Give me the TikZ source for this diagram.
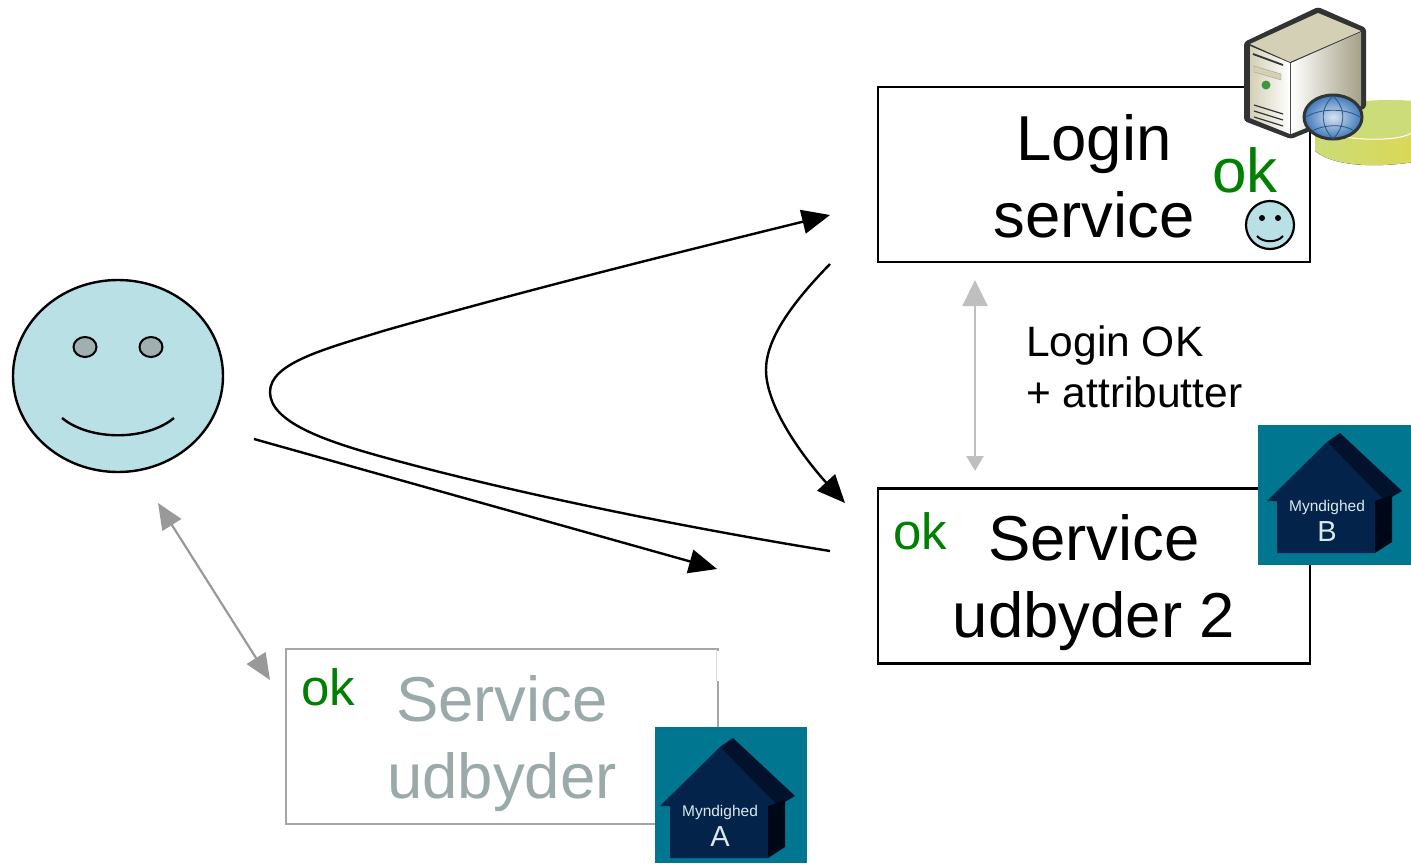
\documentclass[tikz,border=0pt]{standalone}
\usepackage{xcolor}
\usepackage{fontspec}
\setmainfont{Liberation Sans}
\usetikzlibrary{positioning,calc,arrows.meta,shapes.geometric}

\begin{document}
\begin{tikzpicture}[x=1pt,y=-1pt]
	\definecolor{faceblue}{RGB}{185,224,229}
	\definecolor{eyegrey}{RGB}{160,176,176}
	\definecolor{okgreen}{RGB}{0,128,0}
	\definecolor{fadegrey}{RGB}{154,170,170}
	\definecolor{tealbg}{RGB}{0,118,145}
	\definecolor{housefront}{RGB}{4,35,74}
	\definecolor{houseroof}{RGB}{2,18,44}
	\definecolor{houseside}{RGB}{0,8,24}
	\definecolor{disctop}{RGB}{203,220,120}
	\definecolor{discside}{RGB}{227,214,69}
	\definecolor{servertop}{RGB}{212,208,182}
	\definecolor{serverdark}{RGB}{165,160,135}
	\definecolor{serverline}{RGB}{50,52,52}
	\definecolor{globeblue}{RGB}{60,120,185}
	\tikzset{
		box/.style={
			draw=black,
			line width=2.4pt,
			minimum width=432,
			minimum height=175,
			inner sep=0pt
		},
		fadedbox/.style={
			box,
			draw=black!35,
			line width=2.8pt
		},
		boxtext/.style={
			inner sep=0pt,
			align=center,
			font=\fontsize{63.5}{77}\selectfont
		},
		okbig/.style={
			text=okgreen,
			inner sep=0pt,
			font=\fontsize{62}{62}\selectfont
		},
		oksmall/.style={
			text=okgreen,
			inner sep=0pt,
			font=\fontsize{51}{51}\selectfont
		},
		flow/.style={
			draw=black,
			line width=2.4pt,
			-{Triangle[length=28,width=24]}
		},
		house/.pic={
			\fill[housefront] (9,76) -- (69,17) -- (127,76) -- (117,76) -- (117,128) -- (19,128) -- (19,76) -- cycle;
			\fill[houseroof] (69,17) -- (82,8) -- (144,66) -- (127,76) -- cycle;
			\fill[houseside] (117,76) -- (134,70) -- (134,117) -- (117,128) -- cycle;
			\node[text=white!85!tealbg,inner sep=0pt,font=\fontsize{15.5}{15}\selectfont] (-name) at (69,82) {Myndighed};
			\node[text=white!85!tealbg,inner sep=0pt,font=\fontsize{29}{29}\selectfont] (-letter) at (69,107) {#1};
		}
	}

	\useasboundingbox (0,0) rectangle (1411,863);

	% ======= Big face =======
	\draw[fill=faceblue,line width=2.4pt] (118,376) ellipse [x radius=105, y radius=96];
	\draw[fill=eyegrey,line width=2pt] (85,347) ellipse [x radius=11.5, y radius=10];
	\draw[fill=eyegrey,line width=2pt] (151,347) ellipse [x radius=11.5, y radius=10];
	\draw[line width=2.4pt] (62,418) .. controls (90,441) and (146,441) .. (174,418);

	% ======= Boxes =======
	\node[box] (login) at (1094,174.5) {};
	\node[boxtext] (logintext) at (1094,176.5) {Login\\service};
	\node[box] (udbyder2) at (1094,576) {};
	\node[boxtext] (udbyder2text) at (1094,583) {Service\\udbyder 2};
	\node[fadedbox] (udbyder) at (502,736.5) {};
	\node[boxtext,text=fadegrey] (udbydertext) at (502,743.5) {Service\\udbyder};
	\draw[white,line width=3pt] (718,651) -- (718,681);
	\draw[black!15,line width=0.6pt] (716.5,651) -- (716.5,681);

	\node[okbig] (oklogin) at (1245,170) {ok};
	\node[oksmall] (okudbyder2) at (920,531) {ok};
	\node[oksmall] (okudbyder) at (328,687) {ok};

	% ======= Small face =======
	\draw[fill=faceblue,line width=2.2pt] (1270,225) circle [radius=24];
	\fill (1262,218) circle [radius=3];
	\fill (1278,218) circle [radius=3];
	\draw[line width=2pt] (1257,236) .. controls (1263,243) and (1277,243) .. (1283,236);

	% ======= Disc and server =======
	\fill[left color=disctop,right color=discside] (1315,119) -- (1315,151) .. controls (1340,172) and (1411,168) .. (1465,150) -- (1465,119) -- cycle;
	\fill[disctop] (1390,119) ellipse [x radius=75, y radius=19];
	\draw[white,line width=1pt] (1315,128) .. controls (1340,142) and (1400,142) .. (1411,133);
	\fill[serverline,rounded corners=3pt] (1318,7) -- (1366,28) -- (1366,108) -- (1291,139) -- (1244,121) -- (1244,42) -- cycle;
	\shade[left color=servertop,right color=white] (1250,46) -- (1290,63) -- (1290,134) -- (1250,118) -- cycle;
	\shade[left color=white,right color=serverdark] (1291,63) -- (1361,32) -- (1361,106) -- (1291,134) -- cycle;
	\fill[servertop] (1250,44) -- (1318,13) -- (1361,31) -- (1290,62) -- cycle;
	\draw[serverline,line width=1.8pt] (1253,54) -- (1283,65);
	\draw[serverdark,fill=servertop] (1254,66) -- (1281,74) -- (1281,80) -- (1254,72) -- cycle;
	\fill[green!45!black!75] (1266,85) circle [radius=4.5];
	\draw[serverline,line width=1.2pt] (1254,105) -- (1283,114) (1254,111) -- (1283,120) (1254,117) -- (1283,126);
	\draw[serverline,line width=3pt,inner color=white!80!globeblue,outer color=globeblue] (1333,117) ellipse [x radius=29, y radius=22];
	\draw[globeblue!70!black,line width=0.8pt] (1306,117) .. controls (1320,108) and (1346,108) .. (1360,117) (1312,131) .. controls (1325,124) and (1345,124) .. (1354,131) (1333,96) .. controls (1318,110) and (1322,128) .. (1333,139) (1333,96) .. controls (1348,110) and (1344,128) .. (1333,139);

	% ======= Houses =======
	\fill[tealbg] (1258,425) rectangle (1411,565);
	\pic at (1258,425) {house={B}};
	\fill[tealbg] (655,727) rectangle (807,863);
	\pic at (651,730) {house={A}};

	% ======= Arrow ends =======
	\coordinate (loginin) at (830,215);
	\coordinate (loginout) at (830,264);
	\coordinate (serv2in) at (845,503);
	\coordinate (serv2out) at (830,551);
	\coordinate (userout) at (254,439);
	\coordinate (userin) at (717,569);
	\coordinate (bend) at (270,392);
	\coordinate (bendup) at (383,331);
	\coordinate (benddown) at (383,457);
	\coordinate (bendb) at (766,370);
	\coordinate (linktop) at (975,280);
	\coordinate (linkbot) at (975,471);
	\coordinate (usertip) at (158,503);
	\coordinate (servtip) at (270,680);

	\draw[flow] (serv2out) .. controls (700,530) and (520,495) .. (benddown) .. controls (325,441) and (270,422) .. (bend) .. controls (270,363) and (325,349) .. (bendup) .. controls (530,289) and (680,252) .. (loginin);
	\draw[flow] (loginout) .. controls (790,305) and (766,340) .. (bendb) .. controls (766,410) and (810,465) .. (serv2in);
	\draw[flow] (userout) -- (userin);
	\draw[draw=black!25,line width=2.2pt,{Triangle[length=26,width=25]}-{Triangle[length=15,width=17]}] (linktop) -- (linkbot);
	\draw[draw=black!40,line width=2.2pt,{Triangle[length=26,width=22]}-{Triangle[length=26,width=22]}] (usertip) -- (servtip);

	\node[anchor=west,align=left,inner sep=0pt,font=\fontsize{42.5}{51}\selectfont] (loginok) at (1026,367) {Login OK\\+ attributter};
\end{tikzpicture}
\end{document}
